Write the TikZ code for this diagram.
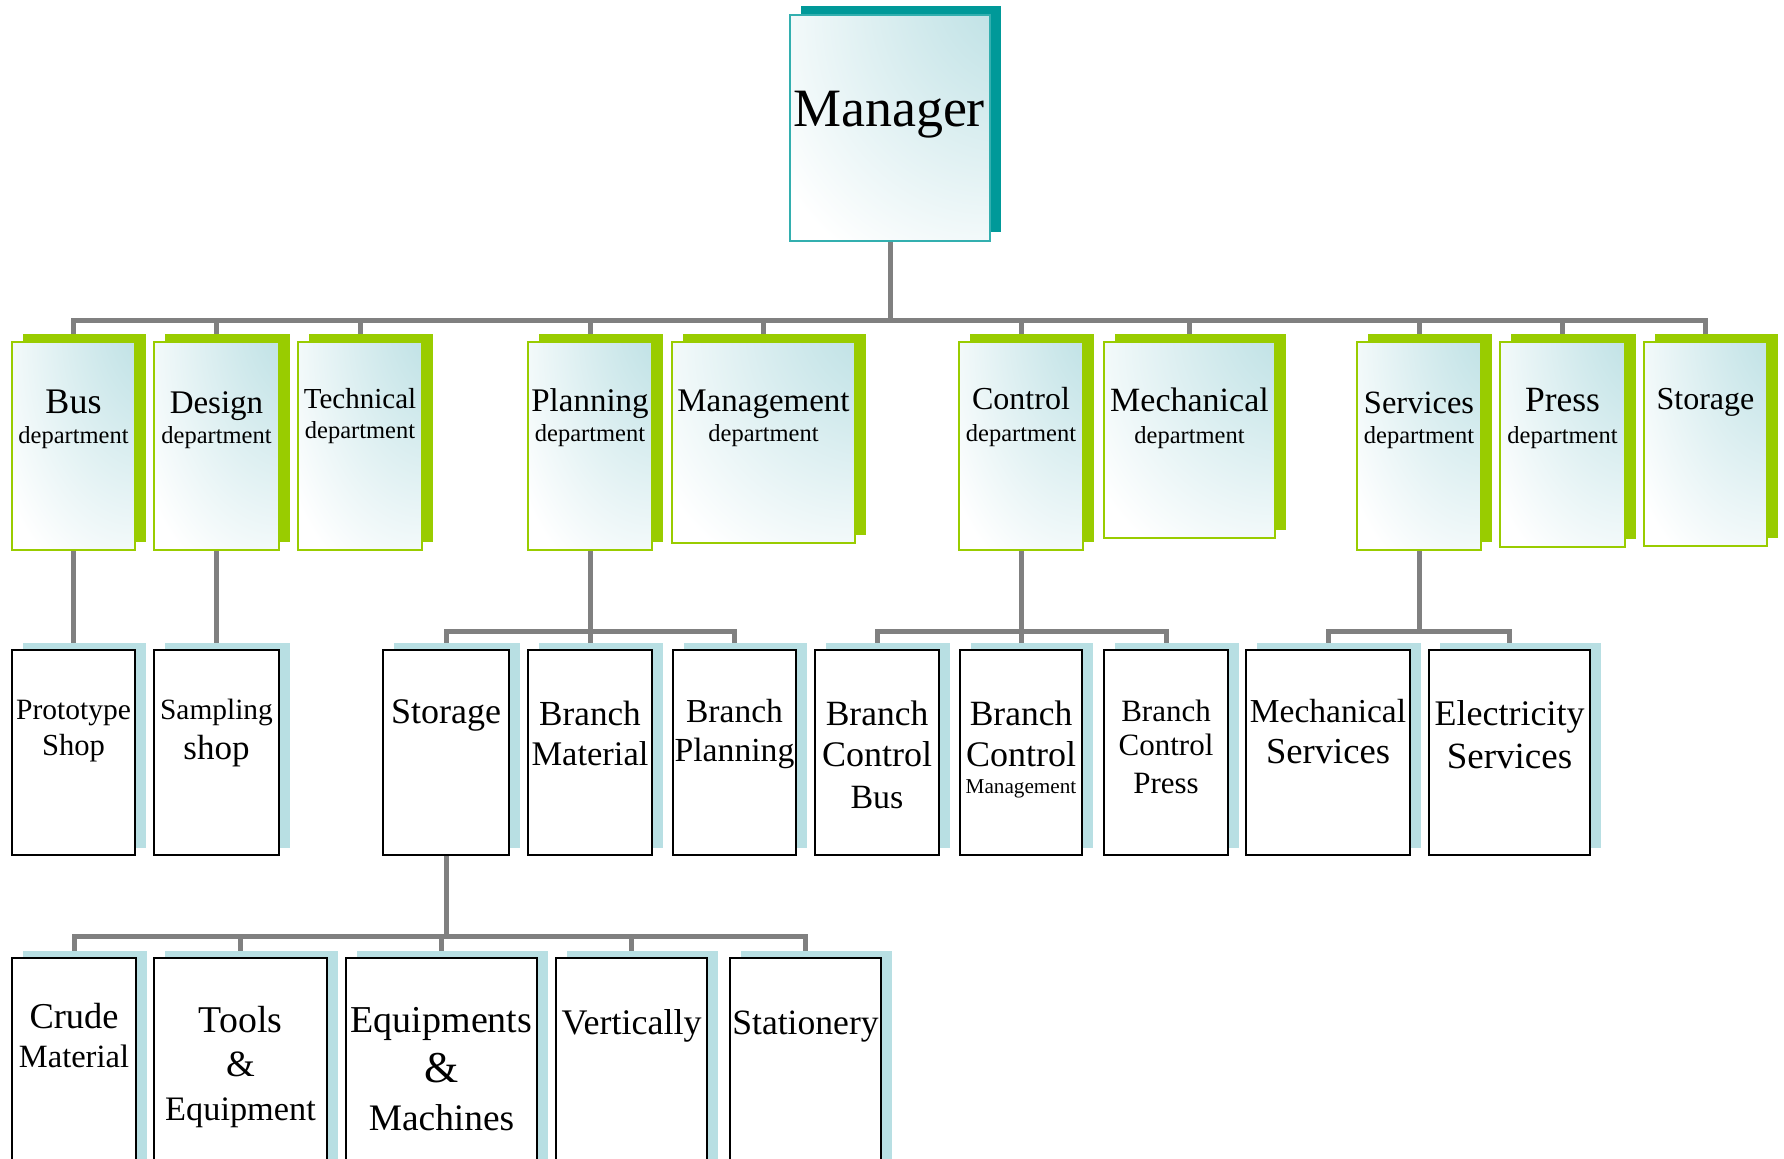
\documentclass[tikz,border=0pt]{standalone}
\usepackage{fontspec}
\setmainfont{Liberation Serif}
\usetikzlibrary{calc}
\definecolor{lgreen}{HTML}{99CC00}
\definecolor{glow}{HTML}{BADFE3}
\definecolor{lblue}{HTML}{B8DFE3}
\definecolor{tealdark}{HTML}{009999}
\definecolor{tealline}{HTML}{33AFAF}
\definecolor{conngray}{HTML}{808080}
\pgfdeclareradialshading{glowshade}{\pgfpoint{42bp}{42bp}}{color(0bp)=(glow); color(10bp)=(glow); color(55bp)=(white); color(100bp)=(white)}
\pgfdeclarelayer{connlayer}
\pgfdeclarelayer{shadowlayer}
\pgfsetlayers{connlayer,shadowlayer,main}
\tikzset{
  greenbox/.style={draw=lgreen, line width=1pt, shading=glowshade, shade, inner sep=0pt, outer sep=0pt},
  mgrbox/.style={draw=tealline, line width=1pt, shading=glowshade, shade, inner sep=0pt, outer sep=0pt},
  whitebox/.style={draw=black, line width=0.9pt, fill=white, inner sep=0pt, outer sep=0pt},
  conn/.style={draw=conngray, line width=2.5pt},
  lbl/.style={anchor=base, inner sep=0pt, outer sep=0pt},
}
% #1 box style, #2 shadow colour, #3 dx (pt), #4 dy (pt), #5 name, #6 left, #7 top, #8 right, #9 bottom (px)
\newcommand\mkbox[9]{%
  \node[#1, minimum width={(#8-#6)*0.5pt}, minimum height={(#9-#7)*0.5pt}] (#5) at ({(#6+#8)/2},{(#7+#9)/2}) {};
  \begin{pgfonlayer}{shadowlayer}
    \fill[#2] ([shift={(#3pt,#4pt)}]#5.south west) rectangle ([shift={(#3pt,#4pt)}]#5.north east);
  \end{pgfonlayer}
}
\newcommand\gbox[5]{\mkbox{greenbox}{lgreen}{5.25}{3.75}{#1}{#2}{#3}{#4}{#5}}
\newcommand\wbox[5]{\mkbox{whitebox}{lblue}{5.25}{3.5}{#1}{#2}{#3}{#4}{#5}}
% name, x, baseline y, size (pt), text
\newcommand\mklabel[5]{\node[lbl, font=\fontsize{#4pt}{#4pt}\selectfont] (#1) at (#2,#3) {#5};}

\begin{document}
\begin{tikzpicture}[x=0.5pt, y=-0.5pt]
\useasboundingbox (0,0) rectangle (1784,1159);

% Manager
\mkbox{mgrbox}{tealdark}{5.25}{4.5}{mgr}{790}{15}{990}{241}

% Level 1
\gbox{dBus}{12}{342}{135}{550}
\gbox{dDesign}{154}{342}{279}{550}
\gbox{dTech}{298}{342}{422}{550}
\gbox{dPlan}{528}{342}{652}{550}
\gbox{dMgmt}{672}{342}{855}{543}
\gbox{dCtrl}{959}{342}{1083}{550}
\gbox{dMech}{1104}{342}{1275}{538}
\gbox{dServ}{1357}{342}{1481}{550}
\gbox{dPress}{1500}{342}{1625}{547}
\gbox{dStor}{1644}{342}{1767}{546}

% Level 2
\wbox{sProto}{12}{650}{135}{855}
\wbox{sSamp}{154}{650}{279}{855}
\wbox{sStor}{383}{650}{509}{855}
\wbox{sBMat}{528}{650}{652}{855}
\wbox{sBPlan}{673}{650}{796}{855}
\wbox{sBCB}{815}{650}{939}{855}
\wbox{sBCM}{960}{650}{1082}{855}
\wbox{sBCP}{1104}{650}{1228}{855}
\wbox{sMS}{1246}{650}{1410}{855}
\wbox{sES}{1429}{650}{1590}{855}

% Level 3
\wbox{tCrude}{12}{958}{136}{1166}
\wbox{tTools}{154}{958}{327}{1166}
\wbox{tEquip}{346}{958}{537}{1166}
\wbox{tVert}{556}{958}{707}{1166}
\wbox{tStat}{730}{958}{881}{1166}

% bus levels
\coordinate (busA) at (0,321);
\coordinate (busB) at (0,631.5);
\coordinate (busC) at (0,937);

\begin{pgfonlayer}{connlayer}
  \foreach \c in {dBus,dDesign,dTech,dPlan,dMgmt,dCtrl,dMech,dServ,dPress,dStor}
    \draw[conn] (mgr.south) |- (busA -| \c.north) -- (\c.north);
  \draw[conn] (dBus.south) -- (sProto.north);
  \draw[conn] (dDesign.south) -- (sSamp.north);
  \foreach \c in {sStor,sBMat,sBPlan}
    \draw[conn] (dPlan.south) |- (busB -| \c.north) -- (\c.north);
  \foreach \c in {sBCB,sBCM,sBCP}
    \draw[conn] (dCtrl.south) |- (busB -| \c.north) -- (\c.north);
  \foreach \c in {sMS,sES}
    \draw[conn] (dServ.south) |- (busB -| \c.north) -- (\c.north);
  \foreach \c in {tCrude,tTools,tEquip,tVert,tStat}
    \draw[conn] (sStor.south) |- (busC -| \c.north) -- (\c.north);
\end{pgfonlayer}

% Texts
\mklabel{mgrT}{889}{127}{27}{Manager}

\mklabel{busT1}{73.5}{414}{18}{Bus}
\mklabel{busT2}{73.5}{444}{12.25}{department}
\mklabel{desT1}{216.5}{414}{16.5}{Design}
\mklabel{desT2}{216.5}{444}{12.25}{department}
\mklabel{tecT1}{360}{409}{14.5}{Technical}
\mklabel{tecT2}{360}{439}{12.25}{department}
\mklabel{plaT1}{590}{412}{16.5}{Planning}
\mklabel{plaT2}{590}{442}{12.25}{department}
\mklabel{mgmT1}{763.5}{412}{16.5}{Management}
\mklabel{mgmT2}{763.5}{442}{12.25}{department}
\mklabel{ctrT1}{1021}{410}{16}{Control}
\mklabel{ctrT2}{1021}{442}{12.25}{department}
\mklabel{mecT1}{1189.5}{412}{17}{Mechanical}
\mklabel{mecT2}{1189.5}{444}{12.25}{department}
\mklabel{serT1}{1419}{414}{16.25}{Services}
\mklabel{serT2}{1419}{444}{12.25}{department}
\mklabel{preT1}{1562.5}{412}{17.75}{Press}
\mklabel{preT2}{1562.5}{444}{12.25}{department}
\mklabel{stoT1}{1705.5}{410}{16}{Storage}

\mklabel{proT1}{73.5}{720}{14.75}{Prototype}
\mklabel{proT2}{73.5}{756}{15.3}{Shop}
\mklabel{samT1}{216.5}{720}{14.7}{Sampling}
\mklabel{samT2}{216.5}{760}{17.5}{shop}
\mklabel{sstT1}{446}{724}{18}{Storage}
\mklabel{bmaT1}{590}{726}{17.6}{Branch}
\mklabel{bmaT2}{590}{766}{17.25}{Material}
\mklabel{bplT1}{734.5}{723}{16.75}{Branch}
\mklabel{bplT2}{734.5}{762}{16.85}{Planning}
\mklabel{bcbT1}{877}{726}{17.75}{Branch}
\mklabel{bcbT2}{877}{767}{18}{Control}
\mklabel{bcbT3}{877}{809}{17}{Bus}
\mklabel{bcmT1}{1021}{726}{17.75}{Branch}
\mklabel{bcmT2}{1021}{767}{18}{Control}
\mklabel{bcmT3}{1021}{794}{10.6}{Management}
\mklabel{bcpT1}{1166}{722}{15.5}{Branch}
\mklabel{bcpT2}{1166}{756}{15.5}{Control}
\mklabel{bcpT3}{1166}{794}{15.5}{Press}
\mklabel{msT1}{1328}{723}{16.75}{Mechanical}
\mklabel{msT2}{1328}{764}{18.3}{Services}
\mklabel{esT1}{1509.5}{726}{18}{Electricity}
\mklabel{esT2}{1509.5}{769}{18.5}{Services}

\mklabel{cruT1}{74}{1029}{18.2}{Crude}
\mklabel{cruT2}{74}{1067}{16.25}{Material}
\mklabel{tooT1}{240.5}{1032}{18.9}{Tools}
\mklabel{tooT2}{240.5}{1076}{18.5}{\&}
\mklabel{tooT3}{240.5}{1120}{17.15}{Equipment}
\mklabel{eqT1}{441.5}{1032}{19}{Equipments}
\mklabel{eqT2}{441.5}{1082}{22}{\&}
\mklabel{eqT3}{441.5}{1130}{18.7}{Machines}
\mklabel{verT1}{631.5}{1034}{18}{Vertically}
\mklabel{staT1}{805.5}{1034}{17.8}{Stationery}
\end{tikzpicture}
\end{document}
